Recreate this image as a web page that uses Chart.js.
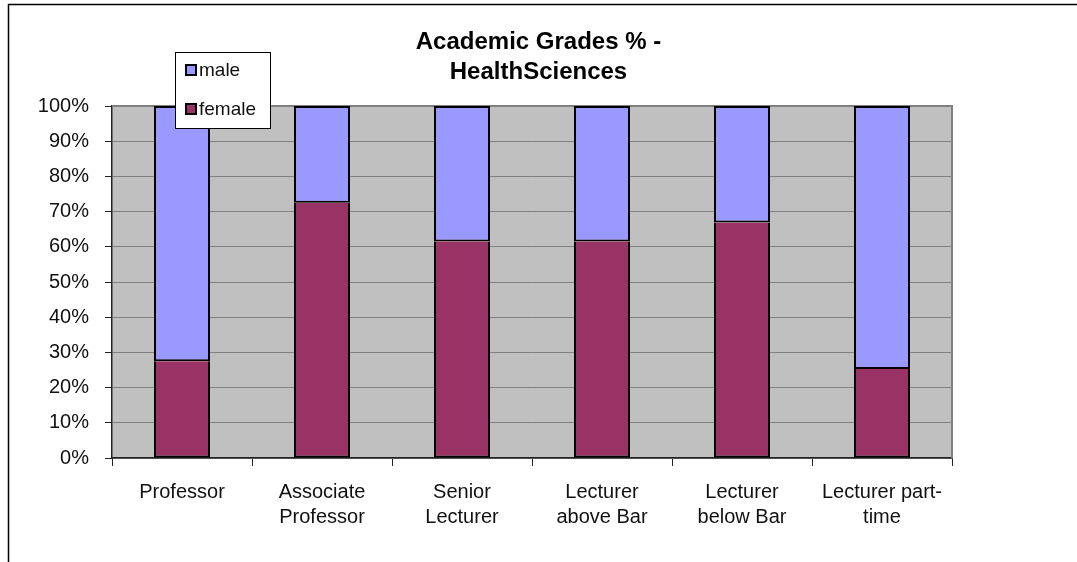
<!DOCTYPE html>
<html>
<head>
<meta charset="utf-8">
<script src="https://cdn.jsdelivr.net/npm/chart.js@4"></script>
<style>
  html, body { margin:0; padding:0; background:#fff; }
  #wrap { width:1077px; height:562px; position:relative; }
</style>
</head>
<body>
<div id="wrap"><canvas id="gradesChart"></canvas></div>
<script>
// grades along the x axis (multi-line labels)
const grades = [
  ["Professor"],
  ["Associate", "Professor"],
  ["Senior", "Lecturer"],
  ["Lecturer", "above Bar"],
  ["Lecturer", "below Bar"],
  ["Lecturer part-", "time"]
];
// share of staff in %
const femaleShare = [27.5, 72.5, 61.5, 61.5, 66.9, 25.3];
const maleShare   = [72.5, 27.5, 38.5, 38.5, 33.1, 74.7];
const legendItems = ["male", "female"];

const MALE = "#9999FF";
const FEMALE = "#993366";
const FONT = "'Liberation Sans', Arial, sans-serif";

// grey plot background, plot border, outer frame and the boxed legend
const excelLook = {
  id: "excelLook",
  beforeDraw(chart) {
    const { ctx, chartArea: a } = chart;
    ctx.save();
    ctx.fillStyle = "#C0C0C0";
    ctx.fillRect(a.left, a.top, a.right - a.left, a.bottom - a.top);
    ctx.restore();
  },
  beforeDatasetsDraw(chart) {
    const { ctx, chartArea: a } = chart;
    ctx.save();
    ctx.strokeStyle = "#808080";
    ctx.lineWidth = 2;
    ctx.beginPath();
    ctx.moveTo(a.left, a.top);
    ctx.lineTo(a.right, a.top);
    ctx.lineTo(a.right, a.bottom);
    ctx.stroke();
    ctx.restore();
  },
  afterDraw(chart) {
    const { ctx } = chart;
    ctx.save();
    // outer chart frame (cut off right and bottom)
    ctx.strokeStyle = "#000";
    ctx.lineWidth = 1.5;
    ctx.beginPath();
    ctx.moveTo(chart.width, 4.5);
    ctx.lineTo(8.5, 4.5);
    ctx.lineTo(8.5, chart.height);
    ctx.stroke();

    // legend box
    const bx = 175, by = 52, bw = 95, bh = 76;
    ctx.fillStyle = "#fff";
    ctx.fillRect(bx, by, bw, bh);
    ctx.strokeStyle = "#000";
    ctx.lineWidth = 1;
    ctx.strokeRect(bx + 0.5, by + 0.5, bw, bh);
    const colors = [MALE, FEMALE];
    const rows = [70, 109];
    ctx.font = "19px " + FONT;
    ctx.textBaseline = "middle";
    legendItems.forEach((name, i) => {
      ctx.fillStyle = colors[i];
      ctx.fillRect(186, rows[i] - 5, 10, 10);
      ctx.strokeStyle = "#000";
      ctx.lineWidth = 2;
      ctx.strokeRect(186, rows[i] - 5, 10, 10);
      ctx.fillStyle = "#111";
      ctx.fillText(name, 199, rows[i] + 1);
    });
    ctx.restore();
  }
};

const ctx = document.getElementById("gradesChart").getContext("2d");
new Chart(ctx, {
  type: "bar",
  data: {
    labels: grades,
    datasets: [
      { label: "female", data: femaleShare, backgroundColor: FEMALE, borderColor: "#000", borderWidth: 2, borderSkipped: "top" },
      { label: "male", data: maleShare, backgroundColor: MALE, borderColor: "#000", borderWidth: 2, borderSkipped: false }
    ]
  },
  options: {
    responsive: true,
    maintainAspectRatio: false,
    animation: false,
    datasets: { bar: { barPercentage: 0.4, categoryPercentage: 1 } },
    layout: { padding: 0 },
    plugins: {
      legend: { display: false },
      tooltip: { enabled: false },
      title: {
        display: true,
        text: ["Academic Grades % -", "HealthSciences"],
        color: "#000",
        font: { family: FONT, size: 24, weight: "bold", lineHeight: 1.23 },
        padding: { top: 28, bottom: 19 }
      }
    },
    scales: {
      x: {
        stacked: true,
        grid: { offset: true, drawOnChartArea: false, drawTicks: true, tickLength: 8, color: "#222", tickColor: "#222" },
        border: { color: "#222", width: 1.5 },
        ticks: { color: "#111", padding: 14, maxRotation: 0, font: { family: FONT, size: 20, lineHeight: 1.25 } },
        afterFit(scale) { scale.height = 104; }
      },
      y: {
        stacked: true,
        min: 0,
        max: 100,
        grid: { color: "#808080", tickLength: 7, tickColor: "#222" },
        border: { color: "#222", width: 1.5 },
        ticks: { stepSize: 10, color: "#111", padding: 16, font: { family: FONT, size: 20 }, callback: v => v + "%" },
        afterFit(scale) { scale.width = 112; }
      },
      // empty right-hand axis: keeps the blank margin right of the plot
      spacer: {
        type: "linear",
        position: "right",
        grid: { display: false, drawTicks: false },
        border: { display: false },
        ticks: { display: false },
        afterFit(scale) { scale.width = 125; }
      }
    }
  },
  plugins: [excelLook]
});
</script>
</body>
</html>
